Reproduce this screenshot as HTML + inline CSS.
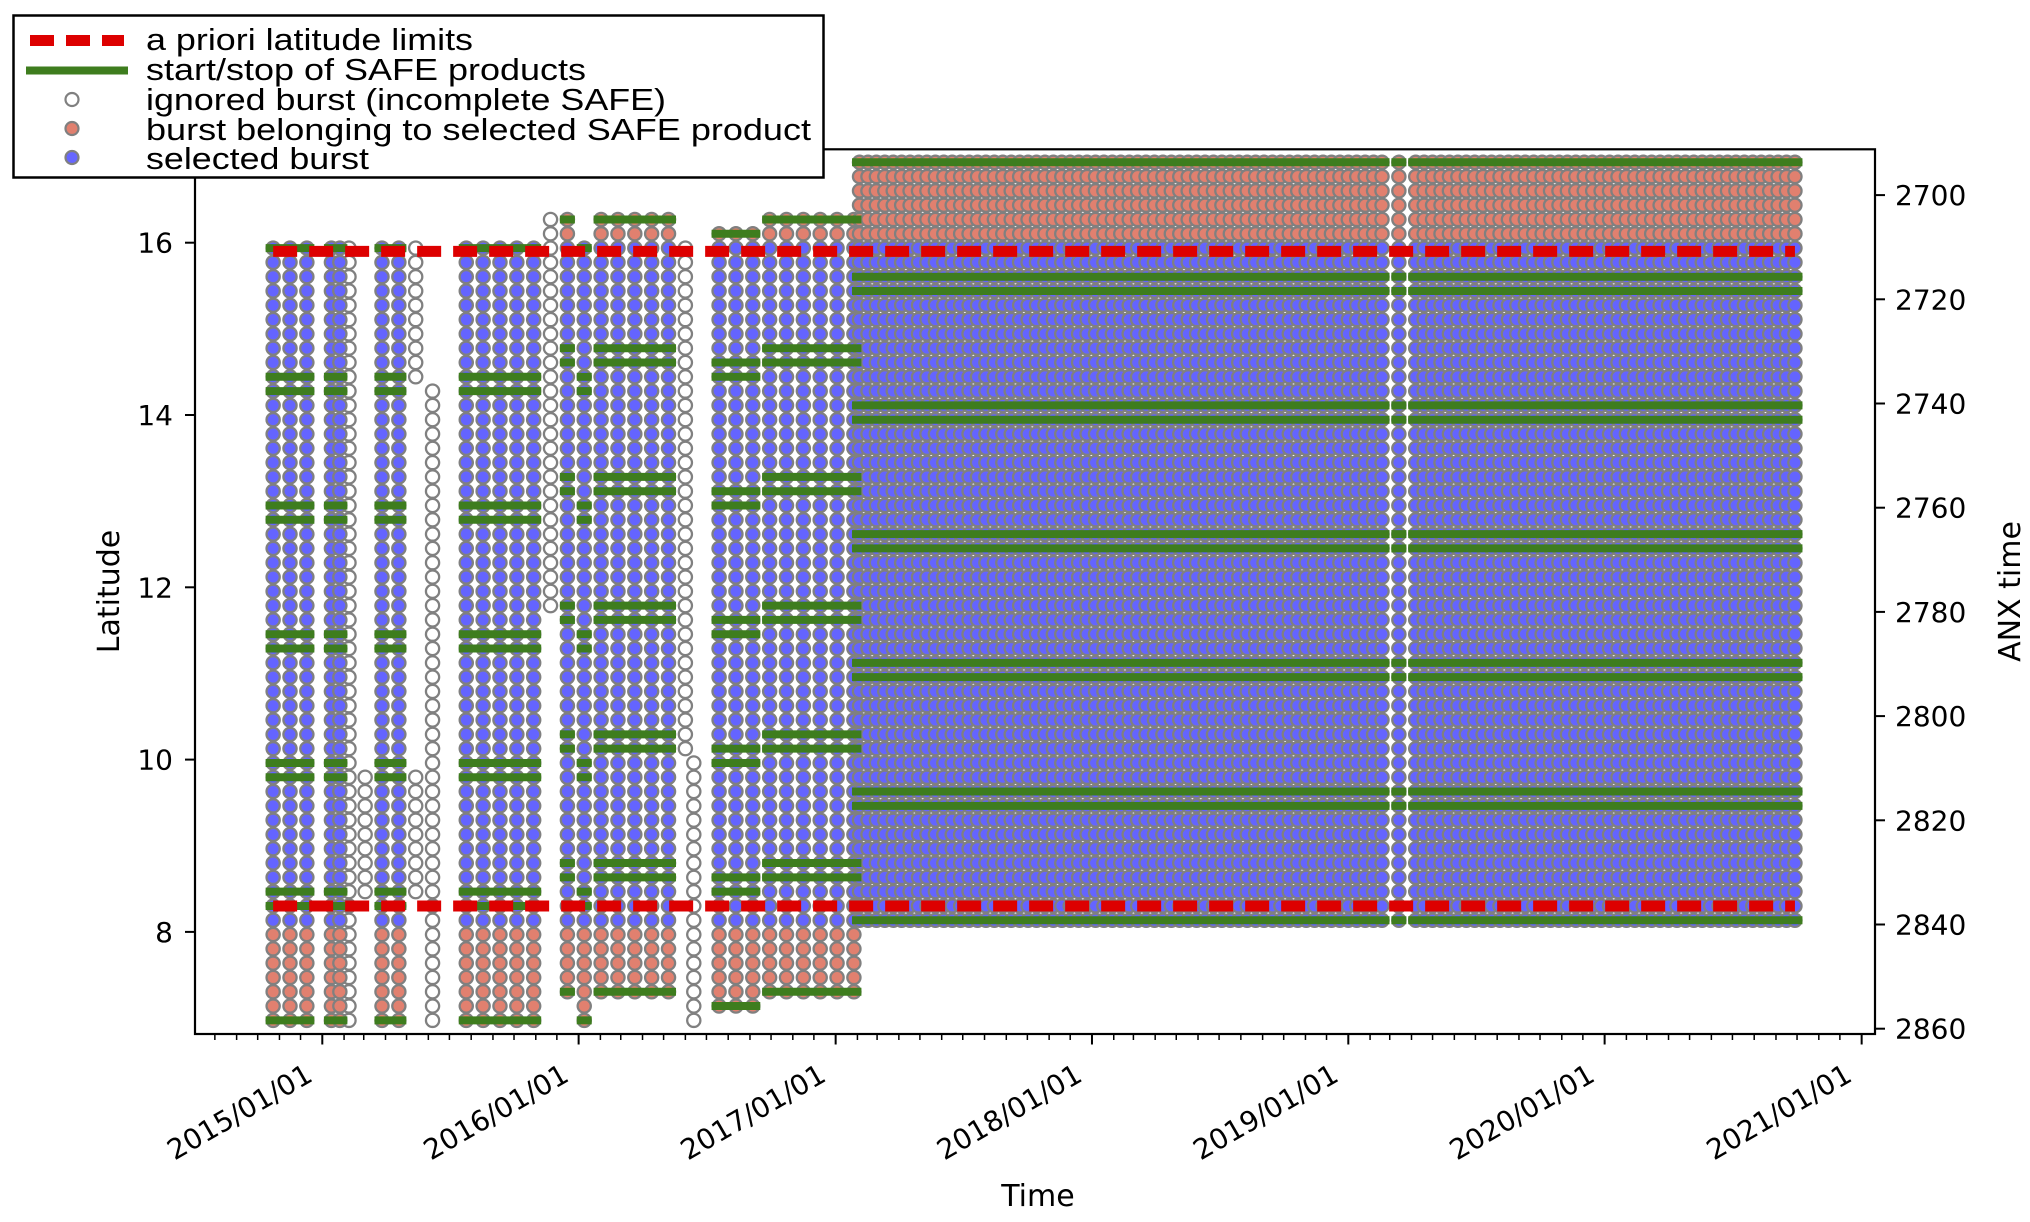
<!DOCTYPE html>
<html>
<head>
<meta charset="utf-8">
<style>
  html,body{margin:0;padding:0;background:#fff;}
  svg{display:block;}
  .tick{font-family:"DejaVu Sans","Liberation Sans",sans-serif;font-size:28px;fill:#000;}
  .axt{font-family:"DejaVu Sans","Liberation Sans",sans-serif;font-size:30px;fill:#000;}
  .leg{font-family:"Liberation Sans Narrow","Liberation Sans",sans-serif;font-size:31px;fill:#000;}
</style>
</head>
<body>
<svg id="chart" width="2030" height="1222" viewBox="0 0 2030 1222" xmlns="http://www.w3.org/2000/svg">
  <rect x="0" y="0" width="2030" height="1222" fill="#fff"/>
  <g id="ignored"></g>
  <g id="selected"></g>
  <g id="green"></g>
  <g id="limits"></g>
  <g id="axes"></g>
  <g id="legend">
    <rect x="13.5" y="15.5" width="810" height="162" fill="#fff" stroke="#000" stroke-width="2.5"/>
    <line x1="30" y1="40.5" x2="124" y2="40.5" stroke="#dd0000" stroke-width="11" stroke-dasharray="24 12"/>
    <text class="leg" x="146" y="50" textLength="327" lengthAdjust="spacingAndGlyphs">a priori latitude limits</text>
    <line x1="26" y1="70.5" x2="128" y2="70.5" stroke="#3e7d1e" stroke-width="8"/>
    <text class="leg" x="146" y="80" textLength="440" lengthAdjust="spacingAndGlyphs">start/stop of SAFE products</text>
    <circle cx="72" cy="99.5" r="6.5" fill="#fff" stroke="#808080" stroke-width="2.2"/>
    <text class="leg" x="146" y="110" textLength="520" lengthAdjust="spacingAndGlyphs">ignored burst (incomplete SAFE)</text>
    <circle cx="72" cy="128.5" r="6.5" fill="#e1806f" stroke="#808080" stroke-width="2.2"/>
    <text class="leg" x="146" y="140" textLength="665" lengthAdjust="spacingAndGlyphs">burst belonging to selected SAFE product</text>
    <circle cx="72" cy="157.5" r="6.5" fill="#6666ff" stroke="#808080" stroke-width="2.2"/>
    <text class="leg" x="146" y="169" textLength="223" lengthAdjust="spacingAndGlyphs">selected burst</text>
  </g>
</svg>
<script>
// ---- data (days since 2015-01-01, burst row indices) ----
const groupFirstDay       = [-70, 13, 85, 205, 349, 373, 397, 565, 637, 765, 1533, 1557];
const groupLastDay        = [-22, 25, 109, 301, 349, 373, 493, 613, 757, 1509, 1533, 2097];
const groupCycleDays      = [24, 12, 24, 24, 24, 24, 24, 24, 24, 12, 12, 12];
const groupTopBurst       = [6, 6, 6, 6, 4, 6, 4, 5, 4, 0, 0, 0];
const groupFirstStopBurst = [15, 15, 15, 15, 13, 15, 13, 14, 13, 8, 8, 8];
const groupBottomBurst    = [60, 60, 60, 60, 58, 60, 58, 59, 58, 53, 53, 53];
const ignoredDay          = [38, 61, 133, 133, 157, 325, 517, 529];
const ignoredTopBurst     = [6, 43, 6, 43, 16, 4, 6, 42];
const ignoredBottomBurst  = [60, 51, 15, 51, 60, 31, 41, 60];
const productBursts = 9;
const selectedBurstRange = [6, 53];
const latLimits = [15.9, 8.3];
const latTicks = [8, 10, 12, 14, 16];
const anxTicks = [2700, 2720, 2740, 2760, 2780, 2800, 2820, 2840, 2860];
const yearTicks = [2015, 2016, 2017, 2018, 2019, 2020, 2021];
const anxFirstBurst = 2693.70;
const burstDuration = 2.745;

// ---- scales ----
const PL = 195, PR = 1875, PT = 149.3, PB = 1034;
const DAY0 = Date.UTC(2015, 0, 1);
const DOT_R = 6.6, DOT_SW = 2.3;
function xDay(d) { return 322.3 + d * 256.5 / 365.25; }
function xDate(y, m, dd) { return xDay((Date.UTC(y, m, dd) - DAY0) / 86400000); }
function yAnx(a) { return 195.1 + (a - 2700) * 5.21; }
function yBurst(i) { return yAnx(anxFirstBurst + i * burstDuration); }
function yLat(l) { return 242.7 + (16 - l) * 86.15; }

const NS = "http://www.w3.org/2000/svg";
function mk(tag, attrs, parent) {
  const e = document.createElementNS(NS, tag);
  for (const k in attrs) e.setAttribute(k, attrs[k]);
  parent.appendChild(e);
  return e;
}
const gIgn = document.getElementById('ignored');
const gSel = document.getElementById('selected');
const gGreen = document.getElementById('green');
const gLim = document.getElementById('limits');
const gAx = document.getElementById('axes');

// ignored bursts
for (let k = 0; k < ignoredDay.length; k++) {
  const x = xDay(ignoredDay[k]);
  for (let i = ignoredTopBurst[k]; i <= ignoredBottomBurst[k]; i++) {
    const c = mk('circle', {cx: x.toFixed(2), cy: yBurst(i).toFixed(2), r: DOT_R, fill: '#fff', stroke: '#808080', 'stroke-width': DOT_SW}, gIgn);
    
    
  }
}

// selected groups
for (let g = 0; g < groupFirstDay.length; g++) {
  const xs = [];
  for (let d = groupFirstDay[g]; d <= groupLastDay[g]; d += groupCycleDays[g]) xs.push(xDay(d));
  for (const x of xs) {
    for (let i = groupTopBurst[g]; i <= groupBottomBurst[g]; i++) {
      const inSel = i >= selectedBurstRange[0] && i <= selectedBurstRange[1];
      const c = mk('circle', {cx: x.toFixed(2), cy: yBurst(i).toFixed(2), r: DOT_R, fill: inSel ? '#6464ff' : '#e1806f', stroke: '#808080', 'stroke-width': DOT_SW}, gSel);
      
      
    }
  }
  const rows = [groupTopBurst[g]];
  for (let s = groupFirstStopBurst[g]; s < groupBottomBurst[g]; s += productBursts) { rows.push(s); rows.push(s + 1); }
  rows.push(groupBottomBurst[g]);
  const x1 = xs[0] - 7.5, x2 = xs[xs.length - 1] + 7.5;
  for (const r of rows) {
    const l = mk('line', {x1: x1.toFixed(2), x2: x2.toFixed(2), y1: yBurst(r).toFixed(2), y2: yBurst(r).toFixed(2), stroke: '#3e7d1e', 'stroke-width': 8}, gGreen);
    
    
  }
}

// latitude limits
const limX1 = xDay(groupFirstDay[0]);
const limX2 = xDay(groupLastDay[groupLastDay.length - 1]);
for (const lat of latLimits) {
  const l = mk('line', {x1: limX1, x2: limX2, y1: yLat(lat), y2: yLat(lat), stroke: '#dd0000', 'stroke-width': 11, 'stroke-dasharray': '24 12'}, gLim);
  
  
}

// spines
const frame = mk('rect', {x: PL, y: PT, width: PR - PL, height: PB - PT, fill: 'none', stroke: '#000', 'stroke-width': 2.2}, gAx);



// left lat ticks
for (const t of latTicks) {
  const y = yLat(t);
  const l = mk('line', {x1: PL - 10, x2: PL, y1: y, y2: y, stroke: '#000', 'stroke-width': 2}, gAx);
  
  
  const tx = mk('text', {x: 173, y: y + 10, 'text-anchor': 'end', class: 'tick'}, gAx);
  tx.textContent = String(t);
  
  
}
// right anx ticks
for (const t of anxTicks) {
  const y = yAnx(t);
  const l = mk('line', {x1: PR, x2: PR + 10, y1: y, y2: y, stroke: '#000', 'stroke-width': 2}, gAx);
  
  
  const tx = mk('text', {x: PR + 20, y: y + 10, 'text-anchor': 'start', class: 'tick'}, gAx);
  tx.textContent = String(t);
  
  
}
// x minor ticks (monthly)
for (let y = 2014; y <= 2021; y++) {
  for (let m = 0; m < 12; m++) {
    const x = xDate(y, m, 1);
    if (x < PL || x > PR) continue;
    const major = (m === 0);
    const l = mk('line', {x1: x, x2: x, y1: PB, y2: PB + (major ? 10.5 : 6), stroke: '#000', 'stroke-width': major ? 2 : 1.5}, gAx);
    
    
  }
}
// x labels
for (const yr of yearTicks) {
  const x = xDate(yr, 0, 1);
  const ax = x - 8, ay = 1080;
  const tx = mk('text', {x: ax, y: ay, 'text-anchor': 'end', class: 'tick', transform: 'rotate(-30 ' + ax + ' ' + ay + ')'}, gAx);
  tx.textContent = yr + '/01/01';
  
  
}
// axis titles
const xt = mk('text', {x: 1038, y: 1206, 'text-anchor': 'middle', class: 'axt'}, gAx);
xt.textContent = 'Time';


const yt = mk('text', {x: 119, y: 591.5, 'text-anchor': 'middle', class: 'axt', transform: 'rotate(-90 119 591.5)'}, gAx);
yt.textContent = 'Latitude';


const y2t = mk('text', {x: 2020, y: 591.5, 'text-anchor': 'middle', class: 'axt', transform: 'rotate(-90 2020 591.5)'}, gAx);
y2t.textContent = 'ANX time';


</script>
</body>
</html>
